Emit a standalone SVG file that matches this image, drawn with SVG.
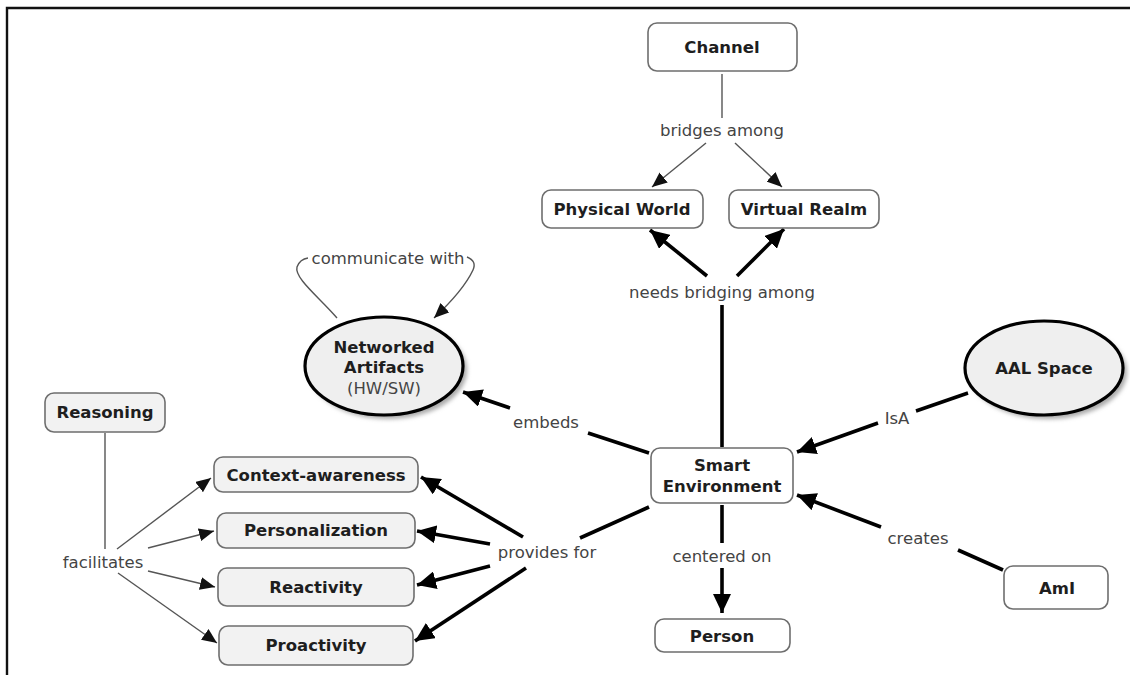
<svg xmlns="http://www.w3.org/2000/svg" width="1130" height="675" viewBox="0 0 1130 675">
  <style>
    .box { fill: #ffffff; stroke: #6e6e6e; stroke-width: 1.6; }
    .box-g { fill: #f2f2f2; stroke: #6e6e6e; stroke-width: 1.6; }
    .oval { fill: #efefef; stroke: #000; stroke-width: 3.2; }
    .name { font-family: "DejaVu Sans", Verdana, sans-serif; font-weight: bold; font-size: 16.5px; fill: #1e1e1e; text-anchor: middle; dominant-baseline: central; }
    .sub { font-family: "DejaVu Sans", Verdana, sans-serif; font-size: 16.5px; fill: #444; text-anchor: middle; dominant-baseline: central; }
    .lbl { font-family: "DejaVu Sans", Verdana, sans-serif; font-size: 16.5px; fill: #444; text-anchor: middle; dominant-baseline: central; }
    .thin { fill: none; stroke: #555; stroke-width: 1.4; }
    .thick { fill: none; stroke: #000; stroke-width: 3.6; }
    .frame { fill: none; stroke: #111; stroke-width: 2.4; }
  </style>
  <defs>
    <marker id="ah-thick" markerUnits="userSpaceOnUse" markerWidth="22" markerHeight="18" refX="19" refY="9" orient="auto">
      <path d="M0,0 L19,9 L0,18 z" fill="#000"/>
    </marker>
    <marker id="ah-thin" markerUnits="userSpaceOnUse" markerWidth="16" markerHeight="13" refX="15" refY="6.5" orient="auto">
      <path d="M0,0 L15,6.5 L0,13 z" fill="#111"/>
    </marker>
    <filter id="soft" x="-20%" y="-20%" width="140%" height="140%">
      <feGaussianBlur stdDeviation="2"/>
    </filter>
  </defs>

  <rect width="1130" height="675" fill="#fff"/>
  <!-- outer frame (top and left edges) -->
  <path class="frame" d="M7,675 L7,8 L1130,8"/>

  <!-- connectors -->
  <g id="connectors">
    <!-- Channel bridges among -->
    <path class="thin" d="M722,74 L722,118"/>
    <path class="thin" d="M706,143 L652,187" marker-end="url(#ah-thin)"/>
    <path class="thin" d="M735,143 L782,187" marker-end="url(#ah-thin)"/>
    <!-- Smart Environment needs bridging among -->
    <path class="thick" d="M722,447 L722,305"/>
    <path class="thick" d="M707,276 L650,230" marker-end="url(#ah-thick)"/>
    <path class="thick" d="M737,276 L784,229" marker-end="url(#ah-thick)"/>
    <!-- communicate with (self loop) -->
    <path class="thin" d="M337,318 C320,298 294,278 297,267 Q300,259 308,258"/>
    <path class="thin" d="M467,257 Q477,261 473,270 C465,287 450,303 434,318" marker-end="url(#ah-thin)"/>
    <!-- embeds -->
    <path class="thick" d="M649,453 L588,433"/>
    <path class="thick" d="M510,408 L463,392" marker-end="url(#ah-thick)"/>
    <!-- IsA -->
    <path class="thick" d="M968,393 L916,411"/>
    <path class="thick" d="M878,423 L797,452" marker-end="url(#ah-thick)"/>
    <!-- creates -->
    <path class="thick" d="M1003,570 L958,550"/>
    <path class="thick" d="M881,527 L797,495" marker-end="url(#ah-thick)"/>
    <!-- centered on -->
    <path class="thick" d="M722,505 L722,543"/>
    <path class="thick" d="M722,568 L722,613" marker-end="url(#ah-thick)"/>
    <!-- provides for -->
    <path class="thick" d="M649,507 L580,538"/>
    <path class="thick" d="M523,537 L421,477" marker-end="url(#ah-thick)"/>
    <path class="thick" d="M490,544 L417,531" marker-end="url(#ah-thick)"/>
    <path class="thick" d="M490,566 L417,585" marker-end="url(#ah-thick)"/>
    <path class="thick" d="M526,568 L415,641" marker-end="url(#ah-thick)"/>
    <!-- Reasoning facilitates -->
    <path class="thin" d="M105,433 L105,549"/>
    <path class="thin" d="M117,549 L211,478" marker-end="url(#ah-thin)"/>
    <path class="thin" d="M148,548 L214,531" marker-end="url(#ah-thin)"/>
    <path class="thin" d="M148,571 L215,587" marker-end="url(#ah-thin)"/>
    <path class="thin" d="M118,573 L217,643" marker-end="url(#ah-thin)"/>

    <!-- linking phrases -->
    <text class="lbl" x="722" y="130">bridges among</text>
    <text class="lbl" x="722" y="292">needs bridging among</text>
    <text class="lbl" x="388" y="258">communicate with</text>
    <text class="lbl" x="546" y="422">embeds</text>
    <text class="lbl" x="897" y="418">IsA</text>
    <text class="lbl" x="918" y="538">creates</text>
    <text class="lbl" x="722" y="556">centered on</text>
    <text class="lbl" x="547" y="552">provides for</text>
    <text class="lbl" x="103" y="562">facilitates</text>
  </g>

  <!-- nodes -->
  <g id="channel">
    <rect class="box" x="648" y="23" width="149" height="48" rx="9"/>
    <text class="name" x="722" y="47">Channel</text>
  </g>
  <g id="physical-world">
    <rect class="box" x="542" y="190" width="161" height="38" rx="9"/>
    <text class="name" x="622" y="209">Physical World</text>
  </g>
  <g id="virtual-realm">
    <rect class="box" x="729" y="190" width="150" height="38" rx="9"/>
    <text class="name" x="804" y="209">Virtual Realm</text>
  </g>
  <g id="networked-artifacts">
    <ellipse cx="388" cy="370" rx="79" ry="49" fill="#aaa" filter="url(#soft)"/>
    <ellipse class="oval" cx="384" cy="366" rx="79" ry="49"/>
    <text class="name" x="384" y="347">Networked</text>
    <text class="name" x="384" y="367">Artifacts</text>
    <text class="sub" x="384" y="388">(HW/SW)</text>
  </g>
  <g id="aal-space">
    <ellipse cx="1048" cy="372" rx="79" ry="47" fill="#aaa" filter="url(#soft)"/>
    <ellipse class="oval" cx="1044" cy="368" rx="79" ry="47"/>
    <text class="name" x="1044" y="368">AAL Space</text>
  </g>
  <g id="smart-environment">
    <rect class="box" x="651" y="448" width="142" height="55" rx="9"/>
    <text class="name" x="722" y="465">Smart</text>
    <text class="name" x="722" y="486">Environment</text>
  </g>
  <g id="person">
    <rect class="box" x="655" y="619" width="135" height="33" rx="9"/>
    <text class="name" x="722" y="636">Person</text>
  </g>
  <g id="ami">
    <rect class="box" x="1004" y="566" width="104" height="43" rx="9"/>
    <text class="name" x="1057" y="588">AmI</text>
  </g>
  <g id="reasoning">
    <rect class="box-g" x="45" y="393" width="120" height="39" rx="9"/>
    <text class="name" x="105" y="412">Reasoning</text>
  </g>
  <g id="context-awareness">
    <rect class="box-g" x="214" y="457" width="204" height="35" rx="9"/>
    <text class="name" x="316" y="475">Context-awareness</text>
  </g>
  <g id="personalization">
    <rect class="box-g" x="217" y="513" width="198" height="35" rx="9"/>
    <text class="name" x="316" y="530">Personalization</text>
  </g>
  <g id="reactivity">
    <rect class="box-g" x="218" y="568" width="196" height="38" rx="9"/>
    <text class="name" x="316" y="587">Reactivity</text>
  </g>
  <g id="proactivity">
    <rect class="box-g" x="219" y="626" width="194" height="39" rx="9"/>
    <text class="name" x="316" y="645">Proactivity</text>
  </g>
</svg>
